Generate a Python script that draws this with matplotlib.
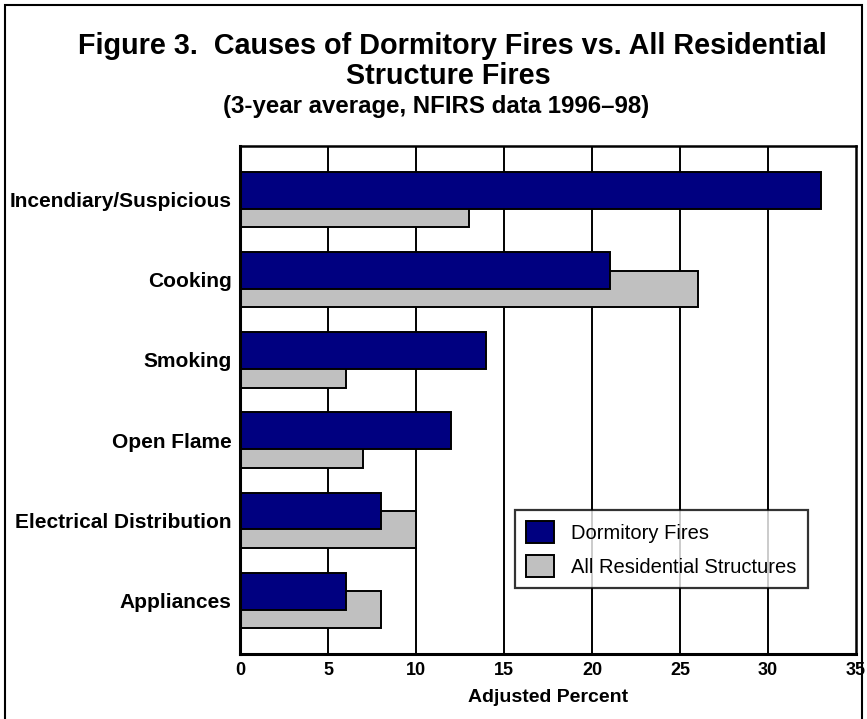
import numpy as np
import matplotlib
matplotlib.use('Agg')
import matplotlib.pyplot as plt
from matplotlib.patches import Rectangle

plt.rcParams['font.family'] = ['Liberation Sans', 'DejaVu Sans']

# data
causes = ['Incendiary/Suspicious', 'Cooking', 'Smoking', 'Open Flame',
          'Electrical Distribution', 'Appliances']
dormitory = [33, 21, 14, 12, 8, 6]
residential = [13, 26, 6, 7, 10, 8]
x_ticks = [0, 5, 10, 15, 20, 25, 30, 35]

W, H = 867, 719
fig = plt.figure(figsize=(W / 100, H / 100), dpi=100)
ax = fig.add_axes([240 / W, (H - 654) / H, 616 / W, 508 / H])

y = np.arange(len(causes))
h = 0.46
# grey bars sit behind, shifted half a bar down
ax.barh(y + h / 4, residential, height=h, color='#C0C0C0', edgecolor='black',
        linewidth=1.4, label='All Residential Structures', zorder=2)
ax.barh(y - h / 4, dormitory, height=h, color='#000080', edgecolor='black',
        linewidth=1.4, label='Dormitory Fires', zorder=3)

ax.set_xlim(0, 35)
ax.set_ylim(len(causes) - 0.33, -0.67)
ax.set_xticks(x_ticks)
ax.set_xticklabels([str(t) for t in x_ticks], fontsize=13, fontweight='bold')
ax.set_yticks(y)
ax.set_yticklabels(causes, fontsize=15, fontweight='bold')
ax.tick_params(length=0, pad=6)
for t in x_ticks[1:-1]:
    ax.axvline(t, color='black', linewidth=1.4, zorder=1)
for s in ax.spines.values():
    s.set_linewidth(1.8)
ax.spines['left'].set_linewidth(2.2)
ax.spines['bottom'].set_linewidth(2.2)
ax.spines['left'].set_zorder(4)
ax.set_xlabel('Adjusted Percent', fontsize=14, fontweight='bold', labelpad=7)

handles, labels = ax.get_legend_handles_labels()
leg = ax.legend(handles[::-1], labels[::-1], loc='upper left',
                bbox_to_anchor=(515 / W, 1 - 510 / H), bbox_transform=fig.transFigure,
                fontsize=14.5, frameon=True, fancybox=False, borderaxespad=0,
                handlelength=1.4, handleheight=1.3, handletextpad=0.85,
                labelspacing=0.6, borderpad=0.55)
leg.get_frame().set_edgecolor('black')
leg.get_frame().set_linewidth(1.6)
leg.set_zorder(5)

fig.text(452 / W, 1 - 46 / H, 'Figure 3.  Causes of Dormitory Fires vs. All Residential',
         ha='center', va='center', fontsize=20.7, fontweight='bold')
fig.text(448 / W, 1 - 76 / H, 'Structure Fires',
         ha='center', va='center', fontsize=20.7, fontweight='bold')
fig.text(436 / W, 1 - 106 / H, '(3-year average, NFIRS data 1996\u201398)',
         ha='center', va='center', fontsize=17.3, fontweight='bold')

# outer frame of the figure box (bottom runs off the page)
fig.add_artist(Rectangle((5 / W, -0.05), 857 / W, 1.05 - 5 / H, transform=fig.transFigure,
                         fill=False, edgecolor='black', linewidth=1.5))

fig.savefig('out.png', dpi=100)
